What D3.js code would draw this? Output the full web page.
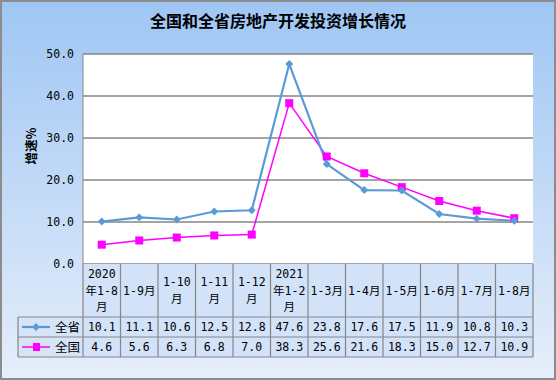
<!DOCTYPE html>
<html>
<head>
<meta charset="utf-8">
<script src="https://cdn.jsdelivr.net/npm/d3@7"></script>
<style>
body { margin: 0; }
svg { display: block; }
</style>
</head>
<body>
<svg id="chart" width="556" height="380"></svg>
<script>
// data
var categories = [["2020", "年1-8", "月"], ["1-9月"], ["1-10", "月"], ["1-11", "月"], ["1-12", "月"],
	["2021", "年1-2", "月"], ["1-3月"], ["1-4月"], ["1-5月"], ["1-6月"], ["1-7月"], ["1-8月"]];
var provinceName = "全省";
var province = [10.1, 11.1, 10.6, 12.5, 12.8, 47.6, 23.8, 17.6, 17.5, 11.9, 10.8, 10.3];
var nationName = "全国";
var nation = [4.6, 5.6, 6.3, 6.8, 7.0, 38.3, 25.6, 21.6, 18.3, 15.0, 12.7, 10.9];
var yTicks = [0, 10, 20, 30, 40, 50];

var W = 556, H = 380;
var plotL = 83, plotR = 533, plotT = 54, plotB = 264;
var numFont = '"DejaVu Sans Mono", "Noto Sans CJK SC", monospace';
var cjkFont = '"Noto Sans CJK SC", sans-serif';
var gridColor = '#868686';
var blue = '#5b9bd5', pink = '#ff00ff';

var svg = d3.select('#chart');

var defs = svg.append('defs');
var grad = defs.append('linearGradient')
	.attr('id', 'bg')
	.attr('x1', 0).attr('y1', 0).attr('x2', 0).attr('y2', 1);
grad.append('stop').attr('offset', '0%').attr('stop-color', '#9fc6f4');
grad.append('stop').attr('offset', '100%').attr('stop-color', '#e6eefa');

svg.append('rect')
	.attr('x', 1).attr('y', 1)
	.attr('width', W - 2).attr('height', H - 2)
	.attr('fill', 'url(#bg)')
	.attr('stroke', '#8c8c8c')
	.attr('stroke-width', 2);

// title
svg.append('text')
	.attr('x', W / 2).attr('y', 27)
	.attr('text-anchor', 'middle')
	.style('font-family', cjkFont)
	.style('font-weight', 'bold')
	.style('font-size', '16px')
	.text('全国和全省房地产开发投资增长情况');

var x = d3.scaleBand()
	.domain(d3.range(categories.length))
	.range([plotL, plotR]);
var y = d3.scaleLinear()
	.domain([0, 50])
	.range([plotB, plotT]);

// plot area
svg.append('rect')
	.attr('x', plotL).attr('y', plotT)
	.attr('width', plotR - plotL).attr('height', plotB - plotT)
	.attr('fill', 'white');

// gridlines
svg.append('g')
	.selectAll('line')
	.data(yTicks)
	.join('line')
	.attr('x1', plotL).attr('x2', plotR)
	.attr('y1', function (d) { return y(d); })
	.attr('y2', function (d) { return y(d); })
	.attr('stroke', gridColor)
	.attr('stroke-width', 1.3);

svg.append('line')
	.attr('x1', plotL).attr('x2', plotL)
	.attr('y1', plotT).attr('y2', plotB)
	.attr('stroke', gridColor);

// y tick labels
svg.append('g')
	.selectAll('text')
	.data(yTicks)
	.join('text')
	.attr('x', 74)
	.attr('y', function (d) { return y(d) + 4; })
	.attr('text-anchor', 'end')
	.style('font-family', numFont)
	.style('font-size', '11.5px')
	.text(function (d) { return d3.format('.1f')(d); });

// y title
svg.append('text')
	.attr('transform', 'translate(36,146) rotate(-90)')
	.attr('text-anchor', 'middle')
	.style('font-family', cjkFont)
	.style('font-weight', 'bold')
	.style('font-size', '12.5px')
	.text('增速%');

function cx(i) { return x(i) + x.bandwidth() / 2; }

// lines
var line = d3.line()
	.x(function (d, i) { return cx(i); })
	.y(function (d) { return y(d); });

svg.append('path')
	.datum(nation)
	.attr('d', line)
	.attr('fill', 'none')
	.attr('stroke', pink)
	.attr('stroke-width', 1.5);

svg.append('path')
	.datum(province)
	.attr('d', line)
	.attr('fill', 'none')
	.attr('stroke', blue)
	.attr('stroke-width', 2.2);

svg.append('g')
	.selectAll('rect')
	.data(nation)
	.join('rect')
	.attr('x', function (d, i) { return cx(i) - 4; })
	.attr('y', function (d) { return y(d) - 4; })
	.attr('width', 8).attr('height', 8)
	.attr('fill', pink);

var diamond = d3.symbol().type(d3.symbolDiamond2).size(40);
svg.append('g')
	.selectAll('path')
	.data(province)
	.join('path')
	.attr('d', diamond)
	.attr('transform', function (d, i) { return 'translate(' + cx(i) + ',' + y(d) + ')'; })
	.attr('fill', blue);

// data table
var headTop = plotB, headBottom = 317, row1 = 337, row2 = 357, legLeft = 18;
var table = svg.append('g');

table.append('rect')
	.attr('x', plotL).attr('y', headTop)
	.attr('width', plotR - plotL).attr('height', row2 - headTop)
	.attr('fill', '#d2e2f8');
table.append('rect')
	.attr('x', legLeft).attr('y', headBottom)
	.attr('width', plotL - legLeft).attr('height', row2 - headBottom)
	.attr('fill', '#d6e4f8');

var tl = [
	[plotL, headTop, plotL, row2], [plotR, headTop, plotR, row2],
	[legLeft, headBottom, legLeft, row2],
	[legLeft, headBottom, plotR, headBottom], [legLeft, row1, plotR, row1],
	[legLeft, row2, plotR, row2]
];
categories.forEach(function (c, i) {
	if (i > 0) tl.push([x(i), headTop, x(i), row2]);
});
table.selectAll('line')
	.data(tl)
	.join('line')
	.attr('x1', function (d) { return d[0]; })
	.attr('y1', function (d) { return d[1]; })
	.attr('x2', function (d) { return d[2]; })
	.attr('y2', function (d) { return d[3]; })
	.attr('stroke', gridColor)
	.attr('stroke-width', 1.2);

// header labels
var lh = 16.5;
table.selectAll('text.cat')
	.data(categories)
	.join('text')
	.attr('class', 'cat')
	.attr('text-anchor', 'middle')
	.style('font-family', numFont)
	.style('font-size', '11.5px')
	.each(function (c, i) {
		var mid = (headTop + headBottom) / 2 + 4;
		var y0 = mid - (c.length - 1) * lh / 2;
		d3.select(this).selectAll('tspan')
			.data(c)
			.join('tspan')
			.attr('x', cx(i))
			.attr('y', function (s, k) { return y0 + k * lh; })
			.text(function (s) { return s; });
	});

function valueRow(vals, yy) {
	table.append('g')
		.selectAll('text')
		.data(vals)
		.join('text')
		.attr('x', function (d, i) { return cx(i); })
		.attr('y', yy)
		.attr('text-anchor', 'middle')
		.style('font-family', numFont)
		.style('font-size', '11.5px')
		.text(function (d) { return d3.format('.1f')(d); });
}
valueRow(province, row1 - 6);
valueRow(nation, row2 - 6);

// legend keys
var k1 = (headBottom + row1) / 2, k2 = (row1 + row2) / 2;
table.append('line')
	.attr('x1', 22).attr('x2', 50).attr('y1', k1).attr('y2', k1)
	.attr('stroke', blue).attr('stroke-width', 2.2);
table.append('path')
	.attr('d', diamond)
	.attr('transform', 'translate(36,' + k1 + ')')
	.attr('fill', blue);
table.append('line')
	.attr('x1', 22).attr('x2', 50).attr('y1', k2).attr('y2', k2)
	.attr('stroke', pink).attr('stroke-width', 1.5);
table.append('rect')
	.attr('x', 33).attr('y', k2 - 4)
	.attr('width', 7).attr('height', 8)
	.attr('fill', pink);
table.append('text')
	.attr('x', 55).attr('y', k1 + 5)
	.style('font-family', cjkFont)
	.style('font-size', '12.5px')
	.text(provinceName);
table.append('text')
	.attr('x', 55).attr('y', k2 + 5)
	.style('font-family', cjkFont)
	.style('font-size', '12.5px')
	.text(nationName);
</script>
</body>
</html>
